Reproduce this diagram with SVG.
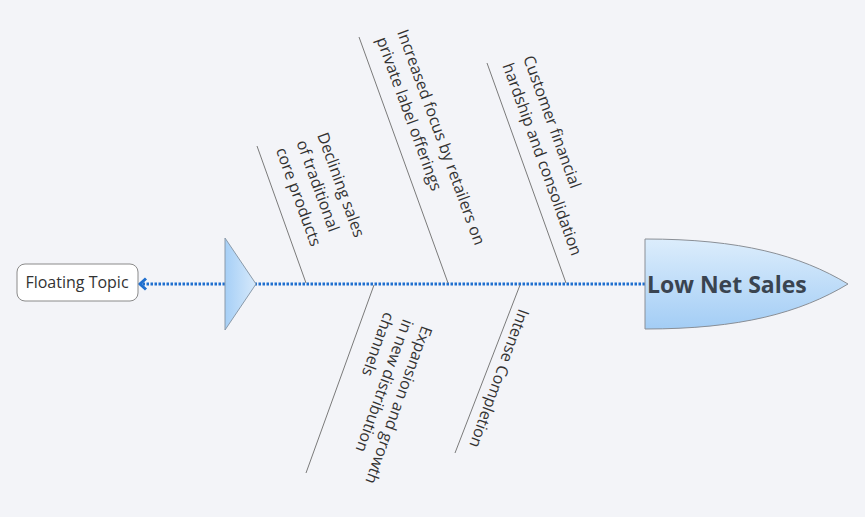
<svg xmlns="http://www.w3.org/2000/svg" width="865" height="517" viewBox="0 0 865 517">
<defs>
<linearGradient id="headGrad" x1="0" y1="0" x2="0" y2="1">
<stop offset="0" stop-color="#dcedfc"/>
<stop offset="1" stop-color="#a3cdf5"/>
</linearGradient>
<linearGradient id="tailGrad" x1="0" y1="0" x2="1" y2="0">
<stop offset="0" stop-color="#a6cff6"/>
<stop offset="1" stop-color="#d6e9fb"/>
</linearGradient>
<style>
.bone{stroke:#7a7a7a;stroke-width:1;fill:none}
.lbl{font-family:"Open Sans","Noto Sans","DejaVu Sans",sans-serif;font-size:16px;fill:#333}
.spine{stroke:#1f6fcf;stroke-width:3;stroke-dasharray:2.5 1.5;fill:none}
</style>
</defs>
<rect width="865" height="517" fill="#f3f4f8"/>

<g id="connectors">
<path class="spine" d="M645,284 L141,284"/>
<path d="M146,278.5 L140,284 L146,289.5" stroke="#1f6fcf" stroke-width="3" fill="none"/>
<line class="bone" x1="257" y1="146" x2="306" y2="283"/>
<line class="bone" x1="359" y1="37" x2="448" y2="283"/>
<line class="bone" x1="487" y1="63" x2="566" y2="283"/>
<line class="bone" x1="374" y1="285" x2="306" y2="473"/>
<line class="bone" x1="520" y1="285" x2="455" y2="453"/>
</g>

<g id="tail">
<path d="M225,238 L256,284 L225,330 Z" fill="url(#tailGrad)" stroke="#8a9aaa" stroke-width="1"/>
</g>

<g id="head">
<path d="M645,239 C740,239 800,255 848,284 C800,313 740,329 645,329 Z" fill="url(#headGrad)" stroke="#8a8f96" stroke-width="1"/>
<text x="647" y="293" font-family="Open Sans,'Noto Sans',sans-serif" font-weight="bold" font-size="23" fill="#3a4450">Low Net Sales</text>
</g>

<g id="floating-topic">
<rect x="17" y="264" width="121" height="37" rx="8" ry="8" fill="#ffffff" stroke="#8a8a8a" stroke-width="1"/>
<text x="77" y="288" text-anchor="middle" class="lbl">Floating Topic</text>
</g>

<g id="bone-declining">
<text class="lbl" transform="translate(317,135) rotate(70)"><tspan x="0" y="0">Declining sales</tspan><tspan x="0" dy="22">of traditional</tspan><tspan x="0" dy="22">core products</tspan></text>
</g>

<g id="bone-increased">
<text class="lbl" transform="translate(397,32) rotate(70)"><tspan x="0" y="0">Increased focus by retailers on</tspan><tspan x="0" dy="22">private label offerings</tspan></text>
</g>

<g id="bone-customer">
<text class="lbl" transform="translate(523,58) rotate(70)"><tspan x="0" y="0">Customer financial</tspan><tspan x="0" dy="22">hardship and consolidation</tspan></text>
</g>

<g id="bone-expansion">
<text class="lbl" transform="translate(422,325) rotate(110)"><tspan x="0" y="0">Expansion and growth</tspan><tspan x="0" dy="20">in new distribution</tspan><tspan x="0" dy="20">channels</tspan></text>
</g>

<g id="bone-intense">
<text class="lbl" transform="translate(519,308) rotate(110)">Intense Completion</text>
</g>
</svg>
